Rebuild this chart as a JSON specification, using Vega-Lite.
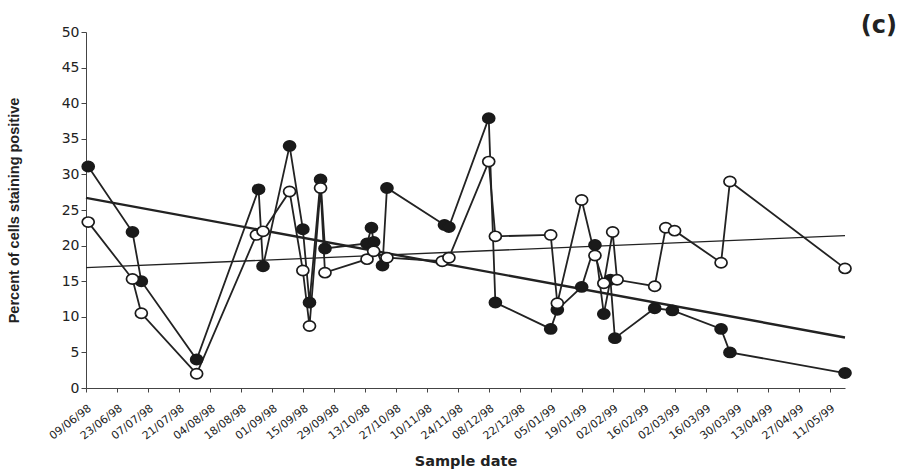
{
  "$schema": "https://vega.github.io/schema/vega-lite/v6.json",
  "width": 759,
  "height": 356,
  "autosize": {"type": "none"},
  "padding": {"left": 86, "top": 32, "right": 59, "bottom": 83},
  "background": "white",
  "config": {
    "view": {"stroke": null},
    "font": "DejaVu Sans",
    "axis": {"labelFont": "DejaVu Sans", "titleFont": "DejaVu Sans", "labelColor": "#222222", "titleColor": "#222222", "domainColor": "#444444", "tickColor": "#444444"}
  },
  "title": {"text": "(c)", "anchor": "end", "orient": "top", "font": "DejaVu Sans", "fontSize": 24, "fontWeight": "bold", "color": "#222222", "baseline": "middle", "offset": 0, "dx": 52, "dy": 25, "frame": "group"},
  "datasets": {
    "samples": [
      {"group": "A", "date": "1998-06-10", "value": 31.1},
      {"group": "A", "date": "1998-06-30", "value": 21.9},
      {"group": "A", "date": "1998-07-04", "value": 15.0},
      {"group": "A", "date": "1998-07-29", "value": 4.0},
      {"group": "A", "date": "1998-08-26", "value": 27.9},
      {"group": "A", "date": "1998-08-28", "value": 17.1},
      {"group": "A", "date": "1998-09-09", "value": 34.0},
      {"group": "A", "date": "1998-09-15", "value": 22.3},
      {"group": "A", "date": "1998-09-18", "value": 12.0},
      {"group": "A", "date": "1998-09-23", "value": 29.3},
      {"group": "A", "date": "1998-09-25", "value": 19.6},
      {"group": "A", "date": "1998-10-14", "value": 20.3},
      {"group": "A", "date": "1998-10-16", "value": 22.5},
      {"group": "A", "date": "1998-10-17", "value": 20.5},
      {"group": "A", "date": "1998-10-21", "value": 17.2},
      {"group": "A", "date": "1998-10-23", "value": 28.1},
      {"group": "A", "date": "1998-11-18", "value": 22.9},
      {"group": "A", "date": "1998-11-20", "value": 22.6},
      {"group": "A", "date": "1998-12-08", "value": 37.9},
      {"group": "A", "date": "1998-12-11", "value": 12.0},
      {"group": "A", "date": "1999-01-05", "value": 8.3},
      {"group": "A", "date": "1999-01-08", "value": 11.0},
      {"group": "A", "date": "1999-01-19", "value": 14.2},
      {"group": "A", "date": "1999-01-25", "value": 20.1},
      {"group": "A", "date": "1999-01-29", "value": 10.4},
      {"group": "A", "date": "1999-02-01", "value": 15.2},
      {"group": "A", "date": "1999-02-03", "value": 7.0},
      {"group": "A", "date": "1999-02-21", "value": 11.2},
      {"group": "A", "date": "1999-03-01", "value": 10.9},
      {"group": "A", "date": "1999-03-23", "value": 8.3},
      {"group": "A", "date": "1999-03-27", "value": 5.0},
      {"group": "A", "date": "1999-05-18", "value": 2.1},
      {"group": "B", "date": "1998-06-10", "value": 23.3},
      {"group": "B", "date": "1998-06-30", "value": 15.3},
      {"group": "B", "date": "1998-07-04", "value": 10.5},
      {"group": "B", "date": "1998-07-29", "value": 2.0},
      {"group": "B", "date": "1998-08-25", "value": 21.5},
      {"group": "B", "date": "1998-08-28", "value": 22.0},
      {"group": "B", "date": "1998-09-09", "value": 27.6},
      {"group": "B", "date": "1998-09-15", "value": 16.5},
      {"group": "B", "date": "1998-09-18", "value": 8.7},
      {"group": "B", "date": "1998-09-23", "value": 28.1},
      {"group": "B", "date": "1998-09-25", "value": 16.2},
      {"group": "B", "date": "1998-10-14", "value": 18.1},
      {"group": "B", "date": "1998-10-17", "value": 19.2},
      {"group": "B", "date": "1998-10-23", "value": 18.3},
      {"group": "B", "date": "1998-11-17", "value": 17.8},
      {"group": "B", "date": "1998-11-20", "value": 18.3},
      {"group": "B", "date": "1998-12-08", "value": 31.8},
      {"group": "B", "date": "1998-12-11", "value": 21.3},
      {"group": "B", "date": "1999-01-05", "value": 21.5},
      {"group": "B", "date": "1999-01-08", "value": 11.9},
      {"group": "B", "date": "1999-01-19", "value": 26.4},
      {"group": "B", "date": "1999-01-25", "value": 18.6},
      {"group": "B", "date": "1999-01-29", "value": 14.7},
      {"group": "B", "date": "1999-02-02", "value": 21.9},
      {"group": "B", "date": "1999-02-04", "value": 15.2},
      {"group": "B", "date": "1999-02-21", "value": 14.3},
      {"group": "B", "date": "1999-02-26", "value": 22.5},
      {"group": "B", "date": "1999-03-02", "value": 22.1},
      {"group": "B", "date": "1999-03-23", "value": 17.6},
      {"group": "B", "date": "1999-03-27", "value": 29.0},
      {"group": "B", "date": "1999-05-18", "value": 16.8}
    ],
    "trends": [
      {"group": "A", "date": "1998-06-09", "value": 26.7},
      {"group": "A", "date": "1999-05-18", "value": 7.1},
      {"group": "B", "date": "1998-06-09", "value": 16.9},
      {"group": "B", "date": "1999-05-18", "value": 21.4}
    ]
  },
  "encoding": {
    "x": {
      "field": "date", "type": "temporal",
      "scale": {"type": "utc", "domain": [{"year": 1998, "month": 6, "date": 9, "utc": true}, {"year": 1999, "month": 5, "date": 18, "utc": true}]},
      "axis": {
        "title": "Sample date", "titleFontSize": 14.5, "titleFontWeight": "bold", "titleY": 73, "titleBaseline": "middle",
        "labelExpr": "utcFormat(datum.value, '%d/%m/%y')",
        "labelAngle": -38, "labelFontSize": 11, "labelPadding": 10, "labelColor": "#222222", "labelOverlap": false, "labelBound": false, "labelFlush": false,
        "tickSize": 4, "grid": false,
        "values": [
          {"year": 1998, "month": 6, "date": 9, "utc": true},
          {"year": 1998, "month": 6, "date": 23, "utc": true},
          {"year": 1998, "month": 7, "date": 7, "utc": true},
          {"year": 1998, "month": 7, "date": 21, "utc": true},
          {"year": 1998, "month": 8, "date": 4, "utc": true},
          {"year": 1998, "month": 8, "date": 18, "utc": true},
          {"year": 1998, "month": 9, "date": 1, "utc": true},
          {"year": 1998, "month": 9, "date": 15, "utc": true},
          {"year": 1998, "month": 9, "date": 29, "utc": true},
          {"year": 1998, "month": 10, "date": 13, "utc": true},
          {"year": 1998, "month": 10, "date": 27, "utc": true},
          {"year": 1998, "month": 11, "date": 10, "utc": true},
          {"year": 1998, "month": 11, "date": 24, "utc": true},
          {"year": 1998, "month": 12, "date": 8, "utc": true},
          {"year": 1998, "month": 12, "date": 22, "utc": true},
          {"year": 1999, "month": 1, "date": 5, "utc": true},
          {"year": 1999, "month": 1, "date": 19, "utc": true},
          {"year": 1999, "month": 2, "date": 2, "utc": true},
          {"year": 1999, "month": 2, "date": 16, "utc": true},
          {"year": 1999, "month": 3, "date": 2, "utc": true},
          {"year": 1999, "month": 3, "date": 16, "utc": true},
          {"year": 1999, "month": 3, "date": 30, "utc": true},
          {"year": 1999, "month": 4, "date": 13, "utc": true},
          {"year": 1999, "month": 4, "date": 27, "utc": true},
          {"year": 1999, "month": 5, "date": 11, "utc": true}
        ]
      }
    },
    "y": {
      "field": "value", "type": "quantitative",
      "scale": {"domain": [0, 50], "nice": false, "zero": true},
      "axis": {
        "title": "Percent of cells staining positive", "titleFont": "Liberation Sans", "titleFontSize": 14.5, "titleFontWeight": "bold", "titleX": -72, "titleBaseline": "middle",
        "values": [0, 5, 10, 15, 20, 25, 30, 35, 40, 45, 50],
        "labelFontSize": 14, "labelPadding": 2, "labelColor": "#222222", "tickSize": 5, "grid": false
      }
    }
  },
  "layer": [
    {
      "data": {"name": "trends"},
      "mark": {"type": "line", "color": "#222222"},
      "encoding": {
        "detail": {"field": "group", "type": "nominal"},
        "strokeWidth": {"field": "group", "type": "nominal", "scale": {"domain": ["A", "B"], "range": [2.4, 1.3]}, "legend": null}
      }
    },
    {
      "data": {"name": "samples"},
      "mark": {"type": "line", "color": "#222222", "strokeWidth": 1.8},
      "encoding": {"detail": {"field": "group", "type": "nominal"}}
    },
    {
      "data": {"name": "samples"},
      "mark": {"type": "point", "filled": true, "opacity": 1, "size": 144, "shape": "M -1 0 A 1 0.85 0 1 0 1 0 A 1 0.85 0 1 0 -1 0 Z", "stroke": "#1a1a1a", "strokeWidth": 1.7},
      "encoding": {
        "fill": {"field": "group", "type": "nominal", "scale": {"domain": ["A", "B"], "range": ["#1a1a1a", "#ffffff"]}, "legend": null}
      }
    }
  ]
}
